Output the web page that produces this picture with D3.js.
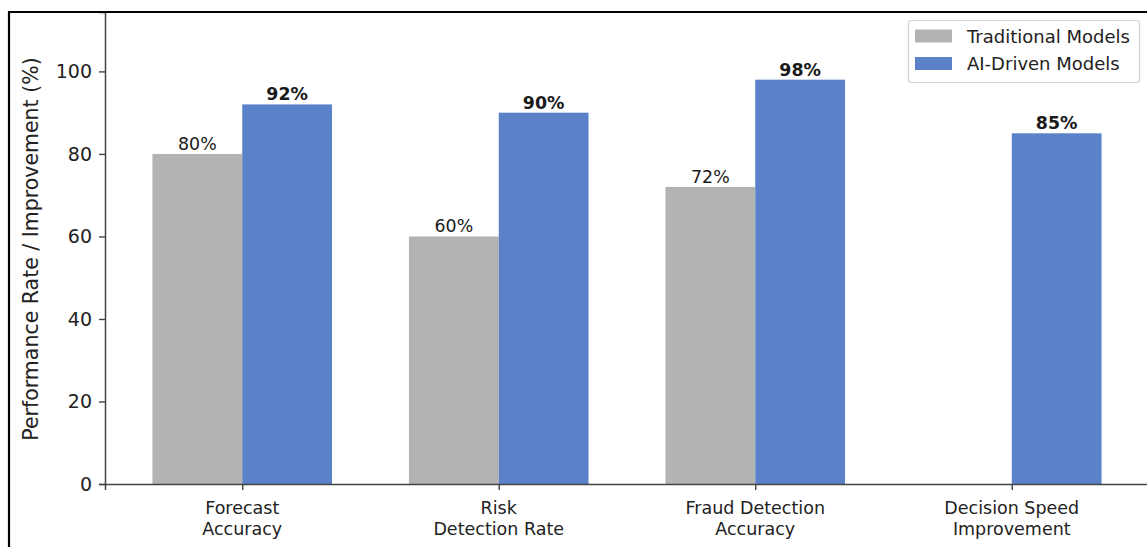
<!DOCTYPE html>
<html>
<head>
<meta charset="utf-8">
<script src="https://cdn.jsdelivr.net/npm/d3@7"></script>
<style>
  html, body { margin: 0; padding: 0; background: #fff; }
  svg { display: block; }
  text { font-family: "DejaVu Sans", sans-serif; }
</style>
</head>
<body>
<svg id="chart" width="1147" height="547"></svg>
<script>
// Metric categories (two-line axis labels)
const categories = [
  ["Forecast", "Accuracy"],
  ["Risk", "Detection Rate"],
  ["Fraud Detection", "Accuracy"],
  ["Decision Speed", "Improvement"]
];
const seriesNames = ["Traditional Models", "AI-Driven Models"];
const traditional = [80, 60, 72, null];
const aiDriven = [92, 90, 98, 85];
const yTicks = [0, 20, 40, 60, 80, 100];

const colors = ["#b3b3b3", "#5b82c9"];
const barWidth = 0.35;

const svg = d3.select("#chart");

// Plot area
const plot = { left: 105, right: 1149, top: 12, bottom: 484 };

const x = d3.scaleLinear().domain([-0.535, categories.length - 1 + 0.535]).range([plot.left, plot.right]);
const y = d3.scaleLinear().domain([0, 114.4]).range([plot.bottom, plot.top]);

// Bars
const series = [traditional, aiDriven];
series.forEach((vals, si) => {
  const offset = si === 0 ? -barWidth : 0;
  const data = vals.map((v, i) => ({ v, i })).filter(d => d.v != null);
  svg.append("g").selectAll("rect").data(data).join("rect")
    .attr("x", d => x(d.i + offset))
    .attr("width", d => x(d.i + offset + barWidth) - x(d.i + offset))
    .attr("y", d => y(d.v))
    .attr("height", d => y(0) - y(d.v))
    .attr("fill", colors[si]);

  // value labels
  svg.append("g").selectAll("text").data(data).join("text")
    .attr("x", d => x(d.i + offset + barWidth / 2))
    .attr("y", d => y(d.v + 1))
    .attr("text-anchor", "middle")
    .attr("font-size", "17.4px")
    .attr("font-weight", si === 1 ? "bold" : "normal")
    .attr("fill", "#1a1a1a")
    .text(d => d.v + "%");
});

// Y axis
const yAxis = d3.axisLeft(y).tickValues(yTicks).tickSize(6).tickPadding(7);
const gy = svg.append("g").attr("transform", `translate(${plot.left},0)`).call(yAxis);
gy.select(".domain").attr("stroke", "#444").attr("stroke-width", 1.5);
gy.selectAll(".tick line").attr("stroke", "#444").attr("stroke-width", 1.4);
gy.selectAll(".tick text").attr("font-size", "19px").attr("fill", "#222")
  .attr("font-family", "DejaVu Sans, sans-serif");

// X axis
const xAxis = d3.axisBottom(x).tickValues(categories.map((c, i) => i)).tickSize(6).tickFormat(() => "");
const gx = svg.append("g").attr("transform", `translate(0,${plot.bottom})`).call(xAxis);
gx.select(".domain").attr("stroke", "#444").attr("stroke-width", 1.5);
gx.selectAll(".tick line").attr("stroke", "#444").attr("stroke-width", 1.4);

// Two-line category labels
const catLabels = svg.append("g");
categories.forEach((lines, i) => {
  const t = catLabels.append("text")
    .attr("x", x(i))
    .attr("y", 514)
    .attr("text-anchor", "middle")
    .attr("font-size", "17.5px")
    .attr("fill", "#222");
  lines.forEach((ln, k) => {
    t.append("tspan").attr("x", x(i)).attr("dy", k === 0 ? 0 : 21).text(ln);
  });
});

// Y axis title
svg.append("text")
  .attr("transform", `translate(38,${(plot.top + plot.bottom) / 2 + 1}) rotate(-90)`)
  .attr("text-anchor", "middle")
  .attr("font-size", "20.5px")
  .attr("fill", "#222")
  .text("Performance Rate / Improvement (%)");

// Legend
const legend = svg.append("g");
legend.append("rect")
  .attr("x", 908.5).attr("y", 20.5).attr("width", 231).attr("height", 62)
  .attr("rx", 3).attr("fill", "#fff").attr("fill-opacity", 0.85)
  .attr("stroke", "#d0d0d0").attr("stroke-width", 1.2);
seriesNames.forEach((name, i) => {
  const cy = 36 + i * 27.5;
  legend.append("rect")
    .attr("x", 915).attr("y", cy - 6.5).attr("width", 37).attr("height", 13)
    .attr("fill", colors[i]);
  legend.append("text")
    .attr("x", 967).attr("y", cy + 6.5)
    .attr("font-size", "18px").attr("fill", "#222")
    .text(name);
});

// Outer frame
svg.append("path")
  .attr("d", `M9,${547 + 5} V12 H${1147 + 5}`)
  .attr("fill", "none").attr("stroke", "#000").attr("stroke-width", 2.2);
</script>
</body>
</html>
